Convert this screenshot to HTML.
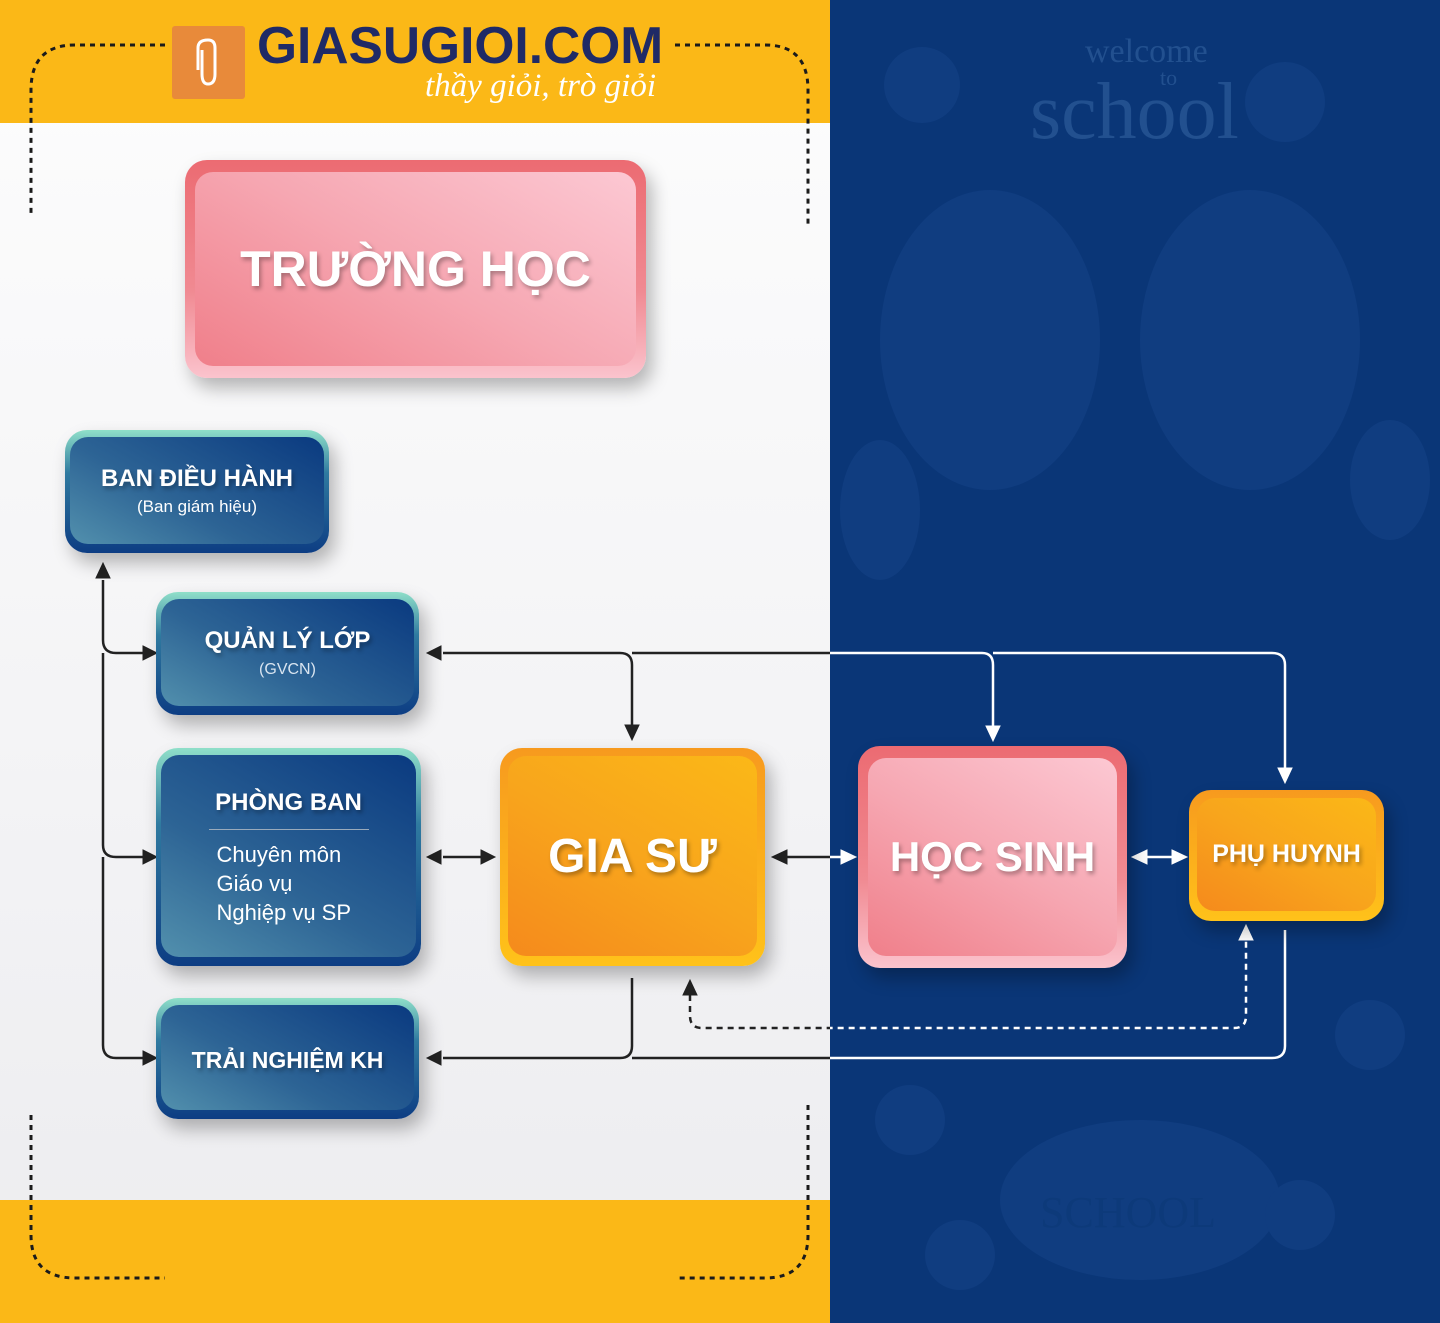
<!DOCTYPE html>
<html><head><meta charset="utf-8">
<style>
*{margin:0;padding:0;box-sizing:border-box}
body{width:1440px;height:1323px;position:relative;overflow:hidden;font-family:"Liberation Sans","DejaVu Sans",sans-serif;background:#f4f4f6}
.abs{position:absolute}
.left{left:0;top:0;width:830px;height:1323px;background:linear-gradient(180deg,#fdfdfd 0%,#f3f3f5 60%,#ececef 100%)}
.right{left:830px;top:0;width:610px;height:1323px;background:#0a3677}
.ybar{left:0;width:830px;height:123px;background:#fbb817}
.bx{position:absolute;border-radius:22px;box-shadow:6px 10px 18px rgba(0,0,0,.28)}
.bx .in{position:absolute;border-radius:18px;display:flex;flex-direction:column;align-items:center;justify-content:center;color:#fff;text-align:center}
.blue{background:linear-gradient(180deg,#8fdfc9 0%,#2f7aa0 35%,#0d3d83 100%)}
.blue .in{left:5px;right:5px;top:7px;bottom:9px;background:linear-gradient(30deg,#5290ad 0%,#2d6495 40%,#0a3a80 100%)}
.pink{background:linear-gradient(180deg,#ec6b72 0%,#f08a92 60%,#fbc3cd 100%)}
.pink .in{left:10px;right:10px;top:12px;bottom:12px;background:linear-gradient(30deg,#f07f8a 0%,#f6a7b2 50%,#fcc8d3 100%)}
.orange{background:linear-gradient(180deg,#f79a1e,#ffc21a)}
.orange .in{left:8px;right:8px;top:8px;bottom:10px;background:linear-gradient(30deg,#f58a1c 0%,#f8a51c 50%,#fbb817 100%)}
.t{font-weight:bold;text-shadow:2px 3px 4px rgba(0,0,0,.3)}
</style></head><body>
<div class="abs left"></div>
<div class="abs right"></div>
<div class="abs ybar" style="top:0"></div>
<div class="abs ybar" style="top:1200px"></div>

<svg class="abs" style="left:830px;top:0" width="610" height="1323">
<g fill="#103d80">
<circle cx="92" cy="85" r="38"/><circle cx="455" cy="102" r="40"/>
<ellipse cx="160" cy="340" rx="110" ry="150"/><ellipse cx="420" cy="340" rx="110" ry="150"/>
<ellipse cx="50" cy="510" rx="40" ry="70"/><ellipse cx="560" cy="480" rx="40" ry="60"/>
<ellipse cx="310" cy="1200" rx="140" ry="80"/><circle cx="130" cy="1255" r="35"/><circle cx="470" cy="1215" r="35"/>
<circle cx="80" cy="1120" r="35"/><circle cx="540" cy="1035" r="35"/>
</g>
<text x="255" y="62" font-family="Liberation Serif,serif" font-size="34" fill="#22508f">welcome</text>
<text x="330" y="85" font-family="Liberation Serif,serif" font-size="22" fill="#22508f">to</text>
<text x="200" y="138" font-family="Liberation Serif,serif" font-size="80" fill="#22508f">school</text>
<text x="210" y="1227" font-family="Liberation Serif,serif" font-size="44" fill="#0d3a7a">SCHOOL</text>
</svg>

<svg class="abs" style="left:0;top:0" width="830" height="1323" fill="none" stroke="#1b1b1b" stroke-width="3" stroke-dasharray="5 5">
<path d="M165 45 H75 Q31 45 31 90 V215"/>
<path d="M675 45 H765 Q808 45 808 90 V225"/>
<path d="M31 1115 V1235 Q31 1278 75 1278 H165"/>
<path d="M808 1105 V1235 Q808 1278 765 1278 H675"/>
</svg>

<div class="abs" style="left:172px;top:26px;width:73px;height:73px;background:#e88a3a;border-radius:3px"></div>
<svg class="abs" style="left:188px;top:36px" width="40" height="52" fill="none" stroke="#fff" stroke-width="3"><path d="M14 14 V38 Q14 48 20 48 Q27 48 27 38 V12 Q27 4 20 4 Q10 4 10 12 V34"/></svg>
<div class="abs" style="left:257px;top:16px;font-size:52px;font-weight:bold;color:#1f2a66;white-space:nowrap;transform:scaleX(0.99);transform-origin:left">GIASUGIOI.COM</div>
<div class="abs" style="left:425px;top:68px;font-family:'Liberation Serif',serif;font-style:italic;font-size:33px;color:#fff;white-space:nowrap">thầy giỏi, trò giỏi</div>

<svg class="abs" style="left:0;top:0" width="1440" height="1323">
<defs>
<clipPath id="cl"><rect x="0" y="0" width="830" height="1323"/></clipPath>
<clipPath id="cr"><rect x="830" y="0" width="610" height="1323"/></clipPath>
<g id="lines" fill="none" stroke-width="2.5">
<path d="M103 580 V640 Q103 653 116 653 H145"/>
<path d="M103 653 V845 Q103 857 116 857 H145"/>
<path d="M103 857 V1045 Q103 1058 116 1058 H145"/>
<path d="M443 653 H620 Q632 653 632 665 V725"/>
<path d="M632 653 H982 Q993 653 993 665 V727"/>
<path d="M993 653 H1272 Q1285 653 1285 665 V770"/>
<path d="M443 1058 H620 Q632 1058 632 1046 V978"/>
<path d="M632 1058 H1272 Q1285 1058 1285 1046 V930"/>
<path d="M443 857 H483"/><path d="M785 857 H843"/><path d="M1145 857 H1172"/>
<path d="M690 995 V1016 Q690 1028 702 1028 H1234 Q1246 1028 1246 1016 V940" stroke-dasharray="6 5"/>
</g>
<g id="heads">
<path d="M96 578 L103 563 L110 578Z"/>
<path d="M143 646 L157 653 L143 660Z"/><path d="M143 850 L157 857 L143 864Z"/><path d="M143 1051 L157 1058 L143 1065Z"/>
<path d="M441 646 L427 653 L441 660Z"/><path d="M441 850 L427 857 L441 864Z"/><path d="M441 1051 L427 1058 L441 1065Z"/>
<path d="M481 850 L495 857 L481 864Z"/>
<path d="M625 725 L632 740 L639 725Z"/>
<path d="M683 995 L690 980 L697 995Z"/>
<path d="M787 850 L772 857 L787 864Z"/><path d="M841 850 L856 857 L841 864Z"/>
<path d="M986 726 L993 741 L1000 726Z"/>
<path d="M1278 768 L1285 783 L1292 768Z"/>
<path d="M1147 850 L1132 857 L1147 864Z"/><path d="M1172 850 L1187 857 L1172 864Z"/>
<path d="M1239 940 L1246 925 L1253 940Z"/>
</g>
</defs>
<g clip-path="url(#cl)" stroke="#222" fill="#222"><use href="#lines"/><use href="#heads"/></g>
<g clip-path="url(#cr)" stroke="#fff" fill="#fff"><use href="#lines"/><use href="#heads"/></g>
</svg>

<div class="bx pink" style="left:185px;top:160px;width:461px;height:218px"><div class="in"><div class="t" style="font-size:50px">TRƯỜNG HỌC</div></div></div>

<div class="bx blue" style="left:65px;top:430px;width:264px;height:123px"><div class="in"><div class="t" style="font-size:24px">BAN ĐIỀU HÀNH</div><div style="font-size:17px;margin-top:4px">(Ban giám hiệu)</div></div></div>

<div class="bx blue" style="left:156px;top:592px;width:263px;height:123px"><div class="in"><div class="t" style="font-size:24px">QUẢN LÝ LỚP</div><div style="font-size:16px;margin-top:6px;color:#d8e4f0">(GVCN)</div></div></div>

<div class="bx blue" style="left:156px;top:748px;width:265px;height:218px"><div class="in" style="justify-content:flex-start;padding-top:34px"><div class="t" style="font-size:24px">PHÒNG BAN</div><div style="width:160px;height:1px;background:#9ab;margin:12px 0 10px"></div><div style="font-size:22px;line-height:29px;text-align:left;width:160px;padding-left:8px">Chuyên môn<br>Giáo vụ<br>Nghiệp vụ SP</div></div></div>

<div class="bx blue" style="left:156px;top:998px;width:263px;height:121px"><div class="in"><div class="t" style="font-size:23px;margin-top:6px">TRẢI NGHIỆM KH</div></div></div>

<div class="bx orange" style="left:500px;top:748px;width:265px;height:218px"><div class="in"><div class="t" style="font-size:48px">GIA SƯ</div></div></div>

<div class="bx pink" style="left:858px;top:746px;width:269px;height:222px"><div class="in"><div class="t" style="font-size:42px">HỌC SINH</div></div></div>

<div class="bx orange" style="left:1189px;top:790px;width:195px;height:131px"><div class="in"><div class="t" style="font-size:25px">PHỤ HUYNH</div></div></div>
</body></html>
